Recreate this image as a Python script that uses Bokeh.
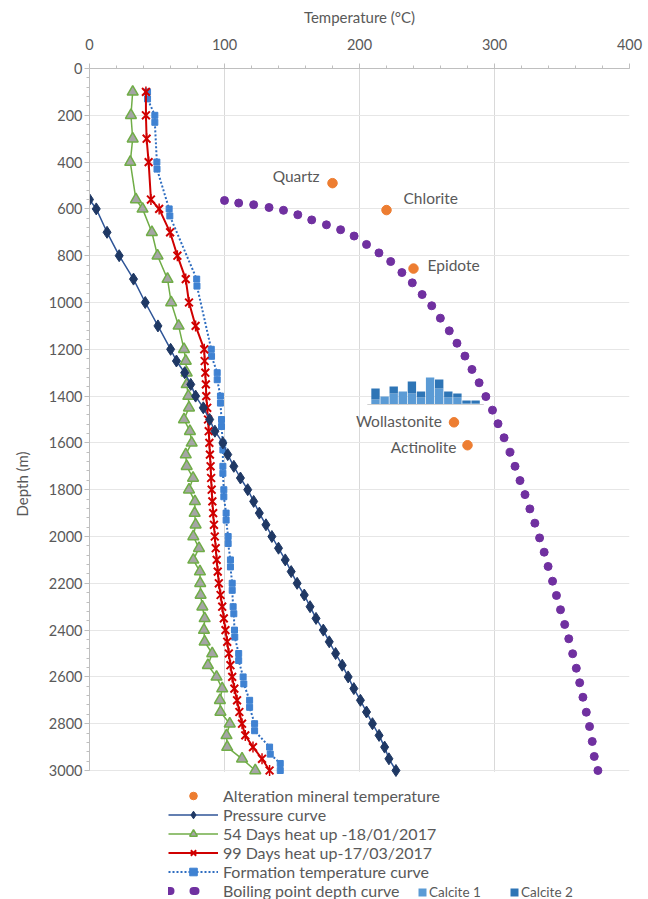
import math
from bokeh.plotting import figure
from bokeh.models import Range1d, FixedTicker, Legend, LegendItem, BoxAnnotation
from bokeh.core.properties import value
from bokeh.embed import file_html
from bokeh.resources import INLINE

FONT = "Lato"
GRAY = "#595959"

# ---------------- data ----------------
x_ticks = [0, 100, 200, 300, 400]
y_ticks = [0, 200, 400, 600, 800, 1000, 1200, 1400, 1600, 1800, 2000,
           2200, 2400, 2600, 2800, 3000]

mineral_names = ["Quartz", "Chlorite", "Epidote", "Wollastonite", "Actinolite"]
mineral_temp = [180, 220, 240, 270, 280]
mineral_depth = [490, 605, 855, 1512, 1610]

pressure_depth = [560, 600, 700, 800, 900, 1000, 1100, 1200, 1250, 1300, 1350,
                  1400, 1450, 1500, 1550, 1600, 1650, 1700, 1750, 1800, 1850,
                  1900, 1950, 2000, 2050, 2100, 2150, 2200, 2250, 2300, 2350,
                  2400, 2450, 2500, 2550, 2600, 2650, 2700, 2750, 2800, 2850,
                  2900, 2950, 3000]
pressure_temp = [0, 5, 13, 22, 32.6, 41.3, 50.7, 60.1, 64.4, 70.5, 75,
                 78.6, 84.3, 89, 92.9, 98.8, 102.4, 106.9, 111.8, 117.2, 121.6,
                 125.8, 130.7, 135.1, 140, 145, 149.4, 153.8, 159.1, 163.4, 167.8,
                 173.2, 177.6, 182.3, 187.2, 191.6, 195.8, 200.7, 205.2, 209.6, 214.5,
                 218.6, 221.8, 227]

heat_depth = [100, 200, 300, 400, 560, 600, 700, 800, 900, 1000, 1100, 1200,
              1250, 1300, 1350, 1400, 1450, 1500, 1550, 1600, 1650, 1700, 1750,
              1800, 1850, 1900, 1950, 2000, 2050, 2100, 2150, 2200, 2250, 2300,
              2350, 2400, 2450, 2500, 2550, 2600, 2650, 2700, 2750, 2800, 2850,
              2900, 2950, 3000]
days54_temp = [32, 30.7, 32, 30.2, 34.4, 39.3, 46.2, 50.4, 57.8, 60.5, 66, 70,
               71.3, 72, 72, 73.2, 73.7, 70, 74.4, 75.7, 71.3, 72, 76.7,
               73.7, 78.1, 77.9, 78.6, 76.9, 81.1, 76.9, 81.8, 82, 82.3, 83.6,
               85.3, 84.8, 85.3, 90.9, 87.7, 94.1, 98.3, 96.6, 97, 103.9, 101.5,
               102, 113, 122.8]
days99_temp = [41.8, 41.8, 42.3, 43.8, 45.5, 51.6, 59.7, 65.1, 71.3, 73.7, 78.6, 85,
               85.3, 85.8, 86.2, 86.5, 87.2, 87.8, 88.3, 88.8, 89.2, 89.7, 90.1,
               90.5, 91, 91.6, 92.2, 92.8, 93.5, 94.2, 95, 95.8, 97.1, 98.3,
               99.5, 100.7, 102, 103.2, 104.4, 105.7, 107.3, 109.3, 111, 113, 115.4,
               121.1, 127.8, 133.4]

formation_depth = [100, 130, 200, 230, 400, 430, 600, 630, 900, 930, 1200, 1230,
                   1300, 1330, 1400, 1430, 1500, 1530, 1600, 1630, 1700, 1730,
                   1800, 1830, 1900, 1930, 2000, 2030, 2100, 2130, 2200, 2230,
                   2300, 2330, 2400, 2430, 2500, 2530, 2600, 2630, 2700, 2730,
                   2800, 2830, 2900, 2930, 2970, 3000]
formation_temp = [43, 43, 48.4, 48.4, 49.9, 50, 59, 59.5, 79.4, 79.6, 90.2, 90.4,
                  94.6, 94.6, 97, 97, 97.8, 97.8, 98.8, 98.8, 98.8, 98.8,
                  99.5, 99.5, 101.2, 101.2, 102.7, 102.7, 104.4, 104.4, 105.7, 105.7,
                  106.4, 106.9, 107.4, 107.6, 110.5, 110.5, 113.8, 114.3, 118.6, 118.6,
                  122.3, 122.3, 133.4, 133.9, 141.3, 141.3]

boiling_temp = [100, 110.5, 121.6, 133, 143.7, 154.3, 164.6, 175.5, 186, 196,
                205.2, 214.4, 223.1, 231.4, 239.1, 246.4, 253.5, 259.9, 266.5, 272.2,
                278.1, 283.3, 288.6, 293.6, 298.5, 302.6, 307.1, 311.5, 315.2, 318.9,
                322.6, 326.2, 329.9, 333.4, 336.8, 339.7, 343, 345.9, 348.9, 352,
                355, 357.9, 360.6, 363.1, 365.5, 368, 370.4, 372.4, 373.9, 376.6]
boiling_depth = [564, 575, 582, 594, 606, 625, 647, 668, 689, 716,
                 752, 788, 825, 872, 916, 966, 1014, 1067, 1121, 1174,
                 1229, 1286, 1343, 1402, 1460, 1518, 1578, 1640, 1700, 1761,
                 1821, 1882, 1943, 2006, 2067, 2128, 2191, 2252, 2313, 2376,
                 2437, 2501, 2563, 2625, 2687, 2751, 2812, 2876, 2940, 3000]

hist_bins = [1, 2, 3, 4, 5, 6, 7, 8, 9, 10, 11, 12]
calcite1 = [2.5, 4, 5.5, 6.5, 5.5, 3.5, 13.5, 8, 3.5, 3.5, 0.5, 0.5]
calcite2 = [5.5, 0, 3.5, 0, 6, 3, 0, 4.5, 3, 2, 1.5, 1.5]

# ---------------- layout constants (pixels) ----------------
W, H = 648, 899
LEFT, RIGHT, TOP = 89, 19, 68
FRAME_W = W - LEFT - RIGHT
FRAME_H = H - TOP                 # frame runs to the bottom; legend lives below depth 3000
DEPTH_PX = 702                    # pixels for 0..3000 m
DEPTH_MAX = y_ticks[-1]
Y_END = DEPTH_MAX * FRAME_H / DEPTH_PX
INSET_FIRST_BIN_PX = 286          # first bin centre, from frame left
INSET_BIN_PX = 9.1
INSET_BASE_PX = 336               # histogram baseline, from frame top
INSET_UNIT_PX = 2.0

p = figure(width=W, height=H, x_range=Range1d(0, 400), y_range=Range1d(Y_END, 0),
           x_axis_location="above", output_backend="svg", toolbar_location=None,
           min_border_left=LEFT, min_border_right=RIGHT, min_border_top=TOP,
           min_border_bottom=0)
p.outline_line_color = None
p.background_fill_color = "white"
p.border_fill_color = "white"

# axes
for ax in (p.xaxis[0], p.yaxis[0]):
    ax.axis_line_color = "#BFBFBF"
    ax.major_tick_line_color = "#BFBFBF"
    ax.minor_tick_line_color = "#BFBFBF"
    ax.major_tick_out = 5
    ax.major_tick_in = 0
    ax.minor_tick_out = 3
    ax.minor_tick_in = 0
    ax.major_label_text_font = FONT
    ax.major_label_text_font_size = "14.5px"
    ax.major_label_text_color = GRAY
    ax.axis_label_text_font = FONT
    ax.axis_label_text_font_size = "15px"
    ax.axis_label_text_color = GRAY
    ax.axis_label_text_font_style = "normal"

p.xaxis.axis_label = "Temperature (°C)"
p.xaxis.ticker = FixedTicker(ticks=x_ticks,
                             minor_ticks=[t for t in range(0, 401, 20)])
p.xaxis.major_label_standoff = 14
p.xaxis.axis_label_standoff = 10

p.yaxis.axis_label = "Depth (m)"
p.yaxis.ticker = FixedTicker(ticks=y_ticks,
                             minor_ticks=[t for t in range(0, DEPTH_MAX + 1, 40)])
p.yaxis.bounds = (0, DEPTH_MAX)
p.yaxis.major_label_standoff = 2
p.yaxis.axis_label_standoff = 15

p.xgrid.ticker = FixedTicker(ticks=x_ticks[1:])
p.xgrid.grid_line_color = "#D9D9D9"
p.ygrid.ticker = FixedTicker(ticks=y_ticks[1:])
p.ygrid.grid_line_color = "#E6E6E6"

# hide the grid below the depth axis (legend area)
p.add_layout(BoxAnnotation(top=DEPTH_MAX + 5, fill_color="white", fill_alpha=1,
                           line_color=None, level="underlay"))

# ---------------- histogram inset ----------------
hx0 = hist_bins[0] - INSET_FIRST_BIN_PX / INSET_BIN_PX
p.extra_x_ranges = {"hx": Range1d(hx0, hx0 + FRAME_W / INSET_BIN_PX),
                    # range used only by the legend proxy of the boiling curve (off view)
                    "legend_only": Range1d(10000, 10400)}
p.extra_y_ranges = {"hy": Range1d(-(FRAME_H - INSET_BASE_PX) / INSET_UNIT_PX,
                                  INSET_BASE_PX / INSET_UNIT_PX)}
c1_top = calcite1
c12_top = [a + b for a, b in zip(calcite1, calcite2)]
r_c1 = p.vbar(x=hist_bins, width=0.92, bottom=0, top=c1_top, fill_color="#5B9BD5",
              line_color=None, x_range_name="hx", y_range_name="hy")
r_c2 = p.vbar(x=hist_bins, width=0.92, bottom=c1_top, top=c12_top, fill_color="#2E75B6",
              line_color=None, x_range_name="hx", y_range_name="hy")
p.segment(x0=[hist_bins[0] - 0.9], x1=[hist_bins[-1] + 0.9], y0=[0], y1=[0],
          line_color="#D0D0D0", line_width=1, x_range_name="hx", y_range_name="hy")

# ---------------- series ----------------
r_boil = p.scatter(boiling_temp, boiling_depth, size=8, marker="circle",
                   fill_color="#7030A0", line_color="#7030A0")
r_boil_leg = p.line(boiling_temp, boiling_depth, line_color="#7030A0", line_width=8,
                    line_dash="2 23", line_cap="round", x_range_name="legend_only")

r_form_l = p.line(formation_temp, formation_depth, line_color="#2E6DC0",
                  line_width=2, line_dash="2 2")
r_form_m = p.scatter(formation_temp, formation_depth, marker="square", size=6,
                     fill_color="#3F82D2", line_color="#3F82D2")

r_99_l = p.line(days99_temp, heat_depth, line_color="#D00000", line_width=2)
r_99_x = p.scatter(days99_temp, heat_depth, marker="x", size=11,
                   line_color="#D00000", line_width=2)
r_99_v = p.scatter(days99_temp, heat_depth, marker="dash", size=11, angle=math.pi / 2,
                   line_color="#D00000", line_width=1.5)

r_54_l = p.line(days54_temp, heat_depth, line_color="#70AD47", line_width=1.5)
r_54_m = p.scatter(days54_temp, heat_depth, marker="triangle", size=11,
                   fill_color="#A5A5A5", line_color="#70AD47", line_width=1.5)

r_pr_l = p.line(pressure_temp, pressure_depth, line_color="#2F5597", line_width=1.5)
r_pr_m = p.scatter(pressure_temp, pressure_depth, marker="diamond", size=12,
                   fill_color="#1F3864", line_color="#1F3864")

r_min = p.scatter(mineral_temp, mineral_depth, marker="circle", size=9.5,
                  fill_color="#ED7D31", line_color="#ED7D31")
p.text(x=mineral_temp, y=mineral_depth, text=mineral_names,
       x_offset=[-13, 17, 14, -12, -11], y_offset=[-7, -12, -4, -1, 2],
       text_align=["right", "left", "left", "right", "right"],
       text_baseline="middle", text_font=value(FONT), text_font_size=value("15.5px"),
       text_color=GRAY)

# ---------------- legends ----------------
legend = Legend(items=[
    LegendItem(label="Alteration mineral temperature", renderers=[r_min]),
    LegendItem(label="Pressure curve", renderers=[r_pr_l, r_pr_m]),
    LegendItem(label="54 Days heat up -18/01/2017", renderers=[r_54_l, r_54_m]),
    LegendItem(label="99 Days heat up-17/03/2017", renderers=[r_99_l, r_99_x, r_99_v]),
    LegendItem(label="Formation temperature curve", renderers=[r_form_l, r_form_m]),
    LegendItem(label="Boiling point depth curve", renderers=[r_boil_leg]),
], location=(79, -1), orientation="vertical", glyph_width=50, glyph_height=19,
    label_height=19, spacing=0, padding=0, margin=0, label_standoff=5,
    border_line_color=None, background_fill_alpha=0,
    label_text_font=FONT, label_text_font_size="16px", label_text_color=GRAY)
p.add_layout(legend, "center")

for lab, rend, loc in (("Calcite 1", r_c1, (328, -1)), ("Calcite 2", r_c2, (420, -1))):
    lg = Legend(items=[LegendItem(label=lab, renderers=[rend])], location=loc,
                glyph_width=10, glyph_height=10, label_height=10, spacing=0,
                padding=0, margin=0, label_standoff=2, border_line_color=None,
                background_fill_alpha=0, label_text_font=FONT,
                label_text_font_size="13.5px", label_text_color=GRAY)
    p.add_layout(lg, "center")

open("out.html", "w").write(file_html(p, INLINE))
